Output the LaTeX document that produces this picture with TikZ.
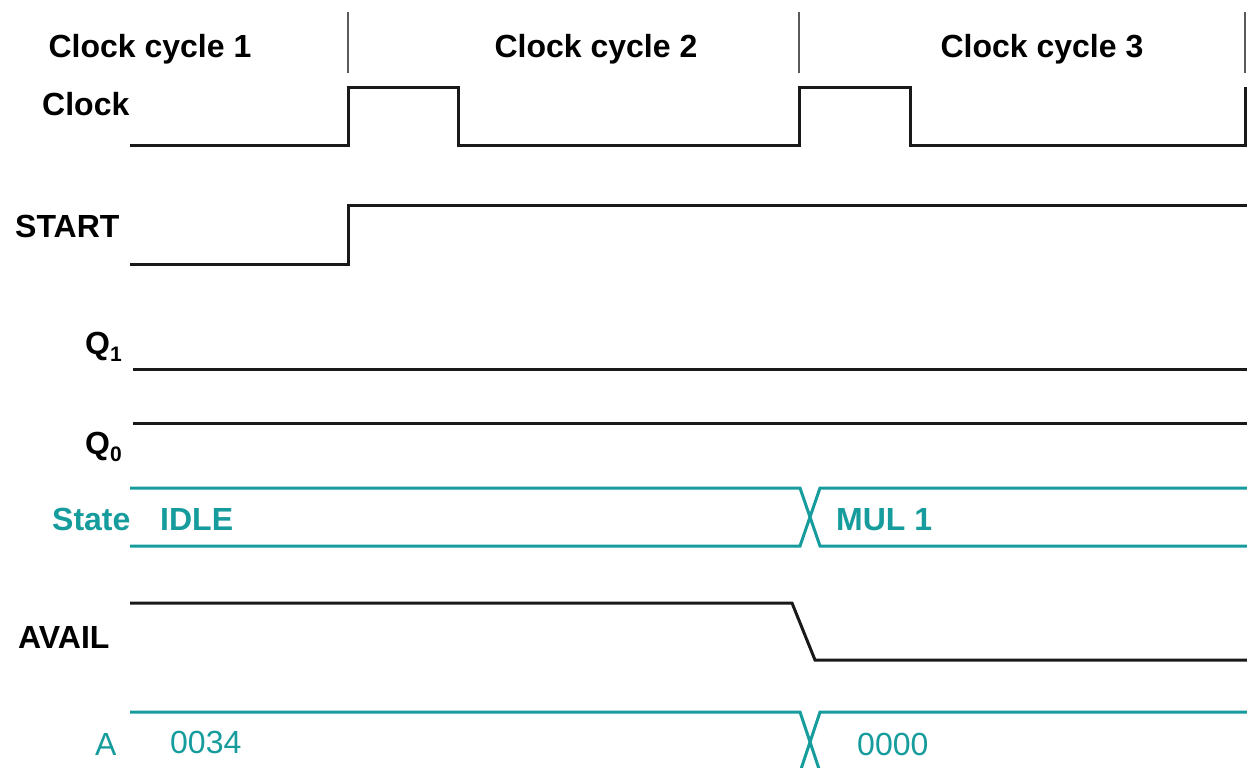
\documentclass[tikz,border=0pt]{standalone}
\usepackage{fontspec}
\setmainfont{Liberation Sans}
\definecolor{busteal}{RGB}{22,156,156}
\definecolor{sigblack}{RGB}{25,25,25}
\definecolor{divgray}{RGB}{90,90,90}
\tikzset{
  sig/.style={draw=sigblack, line width=3pt, line join=miter},
  bus/.style={draw=busteal, line width=3pt},
  divider/.style={draw=divgray, line width=1.8pt},
  lbl/.style={inner sep=0pt, font=\fontsize{32}{36}\selectfont\bfseries, text=black},
  tlbl/.style={inner sep=0pt, font=\fontsize{32}{36}\selectfont\bfseries, text=busteal},
  vlbl/.style={inner sep=0pt, font=\fontsize{32}{36}\selectfont, text=busteal},
}
\newcommand{\qsub}[1]{Q\raisebox{-0.45ex}{\fontsize{21}{24}\selectfont #1}}
\begin{document}
\begin{tikzpicture}[x=1pt, y=-1pt]
\useasboundingbox (0,0) rectangle (1247,768);
\fill[white] (0,0) rectangle (1247,768);

% cycle boundaries
\draw[divider] (348,12) -- (348,73);
\draw[divider] (799,12) -- (799,73);
\draw[divider] (1245,12) -- (1245,73);

% cycle captions
\node[lbl, anchor=base] (cc1) at (150,57) {Clock cycle 1};
\node[lbl, anchor=base] (cc2) at (596,57) {Clock cycle 2};
\node[lbl, anchor=base] (cc3) at (1042,57) {Clock cycle 3};

% signal names
\node[lbl, anchor=base west] (nclk) at (42,115) {Clock};
\node[lbl, anchor=base west] (nstart) at (15,237) {START};
\node[lbl, anchor=base west] (nq1) at (85,354) {\qsub{1}};
\node[lbl, anchor=base west] (nq0) at (85,454) {\qsub{0}};
\node[tlbl, anchor=base west] (nstate) at (52,530) {State};
\node[lbl, anchor=base west] (navail) at (18,648) {AVAIL};
\node[vlbl, anchor=base west] (na) at (95,755) {A};

% clock
\draw[sig] (130,145) -- (348,145) -- (348,87) -- (458,87) -- (458,145)
  -- (799,145) -- (799,87) -- (910,87) -- (910,145) -- (1245,145) -- (1245,87);

% START
\draw[sig] (130,264) -- (348,264) -- (348,205) -- (1250,205);

% Q1, Q0
\draw[sig] (133,369) -- (1250,369);
\draw[sig] (133,423) -- (1250,423);

% State bus
\draw[bus] (130,488) -- (800,488) -- (820,546) -- (1250,546);
\draw[bus] (130,546) -- (800,546) -- (820,488) -- (1250,488);
\node[tlbl, anchor=base west] (idle) at (160,530) {IDLE};
\node[tlbl, anchor=base west] (mul) at (836,530) {MUL 1};

% AVAIL
\draw[sig] (130,603) -- (792,603) -- (815,660) -- (1250,660);

% A bus
\draw[bus] (130,712) -- (800,712) -- (820,772) -- (1250,772);
\draw[bus] (130,772) -- (800,772) -- (820,712) -- (1250,712);
\node[vlbl, anchor=base west] (a0) at (170,753) {0034};
\node[vlbl, anchor=base west] (a1) at (857,755) {0000};
\end{tikzpicture}
\end{document}
